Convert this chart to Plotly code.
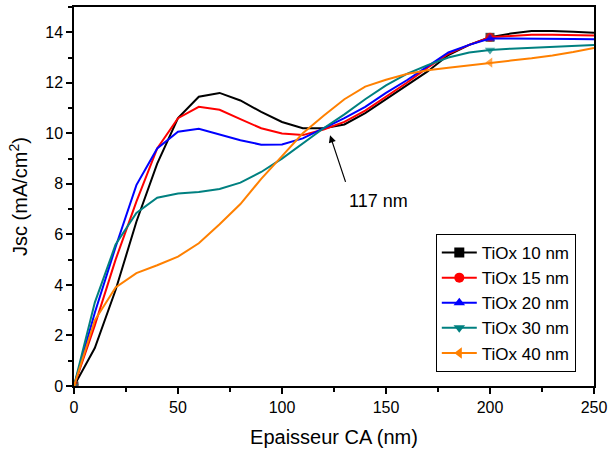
import plotly.graph_objects as go

thickness = [0, 10, 20, 30, 40, 50, 60, 70, 80, 90, 100, 110, 120, 130, 140, 150,
             160, 170, 180, 190, 200, 210, 220, 230, 240, 250]

jsc_10 = [0, 1.5, 3.8, 6.5, 8.8, 10.6, 11.45, 11.6, 11.3, 10.85, 10.45, 10.2, 10.2,
          10.35, 10.8, 11.35, 11.9, 12.45, 13.1, 13.5, 13.8, 13.95, 14.05, 14.05, 14.02, 13.98]
jsc_15 = [0, 2.4, 5.0, 7.3, 9.4, 10.6, 11.05, 10.93, 10.56, 10.2, 9.99, 9.93, 10.15,
          10.45, 10.9, 11.45, 12.0, 12.6, 13.15, 13.5, 13.8, 13.85, 13.9, 13.9, 13.88, 13.87]
jsc_20 = [0, 2.9, 5.5, 7.95, 9.4, 10.06, 10.18, 9.95, 9.73, 9.55, 9.56, 9.8, 10.2,
          10.6, 11.05, 11.6, 12.1, 12.65, 13.2, 13.5, 13.75, 13.75, 13.75, 13.75, 13.73, 13.72]
jsc_30 = [0, 3.3, 5.6, 6.85, 7.45, 7.62, 7.68, 7.8, 8.05, 8.47, 9.0, 9.6, 10.2,
          10.75, 11.35, 11.9, 12.35, 12.7, 13.0, 13.2, 13.3, 13.35, 13.38, 13.42, 13.46, 13.5]
jsc_40 = [0, 2.6, 3.9, 4.47, 4.78, 5.12, 5.65, 6.4, 7.2, 8.2, 9.1, 10.0, 10.7,
          11.35, 11.85, 12.12, 12.35, 12.5, 12.6, 12.7, 12.8, 12.88, 12.97, 13.08, 13.22, 13.38]

names = ["TiOx 10 nm", "TiOx 15 nm", "TiOx 20 nm", "TiOx 30 nm", "TiOx 40 nm"]
series = [jsc_10, jsc_15, jsc_20, jsc_30, jsc_40]
colors = ["#000000", "#FF0000", "#0000FF", "#008080", "#FF8000"]
symbols = ["square", "circle", "triangle-up", "triangle-down", "triangle-left"]
marker_x = [0, 200]

fig = go.Figure()
for name, ys, c, s in zip(names, series, colors, symbols):
    sizes = [9 if x in marker_x else 0 for x in thickness]
    fig.add_trace(go.Scatter(
        x=thickness, y=ys, mode="lines+markers", name=name, legendgroup=name,
        showlegend=False, line=dict(color=c, width=2),
        marker=dict(symbol=s, size=sizes, color=c, line=dict(width=0))))
    fig.add_trace(go.Scatter(
        x=[None], y=[None], mode="lines+markers", name=name, legendgroup=name,
        line=dict(color=c, width=2), marker=dict(symbol=s, size=10, color=c)))

font = "Liberation Sans, Arial, sans-serif"
axis_common = dict(showline=True, linecolor="black", linewidth=1.5, mirror=True,
                   ticks="outside", ticklen=6, tickwidth=1.5, tickcolor="black",
                   showgrid=False, zeroline=False, automargin=False,
                   tickfont=dict(family=font, size=16, color="black"))

fig.update_xaxes(range=[0, 250], dtick=50, tick0=0,
                 title=dict(text="Epaisseur CA (nm)", font=dict(family=font, size=20, color="black"), standoff=15),
                 minor=dict(dtick=25, ticks="outside", ticklen=4, tickcolor="black", tickwidth=1.5),
                 **axis_common)
fig.update_yaxes(range=[0, 15], dtick=2, tick0=0,
                 title=dict(text="Jsc (mA/cm<sup>2</sup>)", font=dict(family=font, size=20, color="black"), standoff=12),
                 minor=dict(dtick=1, ticks="outside", ticklen=4, tickcolor="black", tickwidth=1.5),
                 **axis_common)

fig.add_annotation(x=123.1, y=9.92, xref="x", yref="y", text="", showarrow=True,
                   ax=16, ay=48, arrowhead=2, arrowsize=1.2, arrowwidth=1.2, arrowcolor="black")
fig.add_annotation(x=146.6, y=7.31, xref="x", yref="y", text="117 nm", showarrow=False,
                   font=dict(family=font, size=18, color="black"))

fig.update_layout(
    width=609, height=450,
    margin=dict(l=74, r=15, t=7, b=64),
    paper_bgcolor="white", plot_bgcolor="white",
    font=dict(family=font, color="black"),
    legend=dict(x=0.965, y=0.037, xanchor="right", yanchor="bottom",
                bgcolor="white", bordercolor="black", borderwidth=1,
                font=dict(family=font, size=17, color="black"),
                tracegroupgap=0, itemwidth=35),
)

fig.write_html("out.html", config={"displayModeBar": False},
               post_script="document.body.style.margin='0px';document.body.style.overflow='hidden';")
